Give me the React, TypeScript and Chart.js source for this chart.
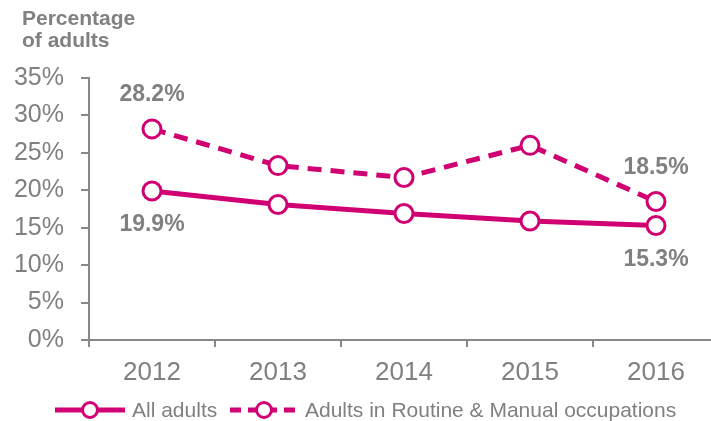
import React, { useEffect, useRef } from "react";
import { Chart, registerables } from "chart.js";

Chart.register(...registerables);

const years = ["2012", "2013", "2014", "2015", "2016"];
const allAdults = [19.9, 18.1, 16.9, 15.9, 15.3];
const routineManual = [28.2, 23.3, 21.7, 26.0, 18.5];
const seriesNames = ["All adults", "Adults in Routine & Manual occupations"];
const titleLines = ["Percentage", "of adults"];

const MAGENTA = "#D10072";
const GREY = "#808080";
const AXIS = "#888888";
const FONT = "'Liberation Sans', Arial, Helvetica, sans-serif";

const overlayPlugin = {
  id: "overlay",
  afterDatasetsDraw(chart: any) {
    const ctx = chart.ctx;
    ctx.save();
    // Data labels on first and last points
    ctx.fillStyle = GREY;
    ctx.font = `bold 23px ${FONT}`;
    ctx.textAlign = "center";
    ctx.textBaseline = "middle";
    const lastIdx = years.length - 1;
    [0, lastIdx].forEach((i) => {
      const m0 = chart.getDatasetMeta(0).data[i];
      const m1 = chart.getDatasetMeta(1).data[i];
      ctx.fillText(allAdults[i].toFixed(1) + "%", m0.x, m0.y + 34);
      ctx.fillText(routineManual[i].toFixed(1) + "%", m1.x, m1.y - 34);
    });
    // Axis title
    ctx.textAlign = "left";
    ctx.textBaseline = "alphabetic";
    ctx.font = `bold 21px ${FONT}`;
    ctx.fillText(titleLines[0], 22, 25);
    ctx.fillText(titleLines[1], 22, 47);
    // Legend
    const ly = 410;
    const drawItem = (x0: number, x1: number, cx: number, dashed: boolean, text: string, tx: number) => {
      ctx.strokeStyle = MAGENTA;
      ctx.lineWidth = 5;
      ctx.setLineDash(dashed ? [11, 7] : []);
      ctx.beginPath();
      ctx.moveTo(x0, ly);
      ctx.lineTo(x1, ly);
      ctx.stroke();
      ctx.setLineDash([]);
      ctx.beginPath();
      ctx.arc(cx, ly, 7.5, 0, Math.PI * 2);
      ctx.fillStyle = "#ffffff";
      ctx.fill();
      ctx.lineWidth = 3;
      ctx.stroke();
      ctx.fillStyle = GREY;
      ctx.font = `21px ${FONT}`;
      ctx.textBaseline = "middle";
      ctx.fillText(text, tx, ly + 1);
    };
    drawItem(55, 125, 90, false, seriesNames[0], 132);
    drawItem(230, 300, 264, true, seriesNames[1], 305);
    ctx.restore();
  },
};

export default function App() {
  const ref = useRef<HTMLCanvasElement>(null);
  useEffect(() => {
    const chart = new Chart(ref.current!, {
      type: "line",
      data: {
        labels: years,
        datasets: [
          {
            label: seriesNames[0],
            data: allAdults,
            borderColor: MAGENTA,
            borderWidth: 5,
            pointRadius: 9,
            pointBorderWidth: 3,
            pointBackgroundColor: "#ffffff",
            pointBorderColor: MAGENTA,
            tension: 0,
          },
          {
            label: seriesNames[1],
            data: routineManual,
            borderColor: MAGENTA,
            borderWidth: 5,
            borderDash: [14, 9],
            pointRadius: 9,
            pointBorderWidth: 3,
            pointBackgroundColor: "#ffffff",
            pointBorderColor: MAGENTA,
            tension: 0,
          },
        ],
      },
      options: {
        responsive: false,
        animation: false,
        layout: { padding: { top: 78, right: 1, bottom: 0, left: 0 } },
        plugins: {
          legend: { display: false },
          tooltip: { enabled: false },
        },
        scales: {
          x: {
            offset: true,
            grid: {
              display: true,
              drawOnChartArea: false,
              drawTicks: true,
              tickLength: 7,
              color: AXIS,
              lineWidth: 2,
              offset: true,
            },
            border: { display: true, color: AXIS, width: 2 },
            ticks: {
              color: GREY,
              font: { family: FONT, size: 26 },
              padding: 10,
              maxRotation: 0,
            },
            afterFit: (s: any) => {
              s.height = 81;
            },
          },
          y: {
            min: 0,
            max: 35,
            grid: {
              display: true,
              drawOnChartArea: false,
              drawTicks: true,
              tickLength: 8,
              color: AXIS,
              lineWidth: 2,
            },
            border: { display: true, color: AXIS, width: 2 },
            ticks: {
              stepSize: 5,
              color: GREY,
              font: { family: FONT, size: 25 },
              padding: 17,
              callback: (v: any) => v + "%",
            },
            afterFit: (s: any) => {
              s.width = 89;
            },
          },
        },
      },
      plugins: [overlayPlugin],
    });
    return () => chart.destroy();
  }, []);
  return (
    <div
      style={{
        position: "absolute",
        left: 0,
        top: 0,
        width: 711,
        height: 421,
        overflow: "hidden",
        background: "#ffffff",
      }}
    >
      <canvas ref={ref} width={731} height={421} style={{ width: 731, height: 421, display: "block" }} />
    </div>
  );
}
